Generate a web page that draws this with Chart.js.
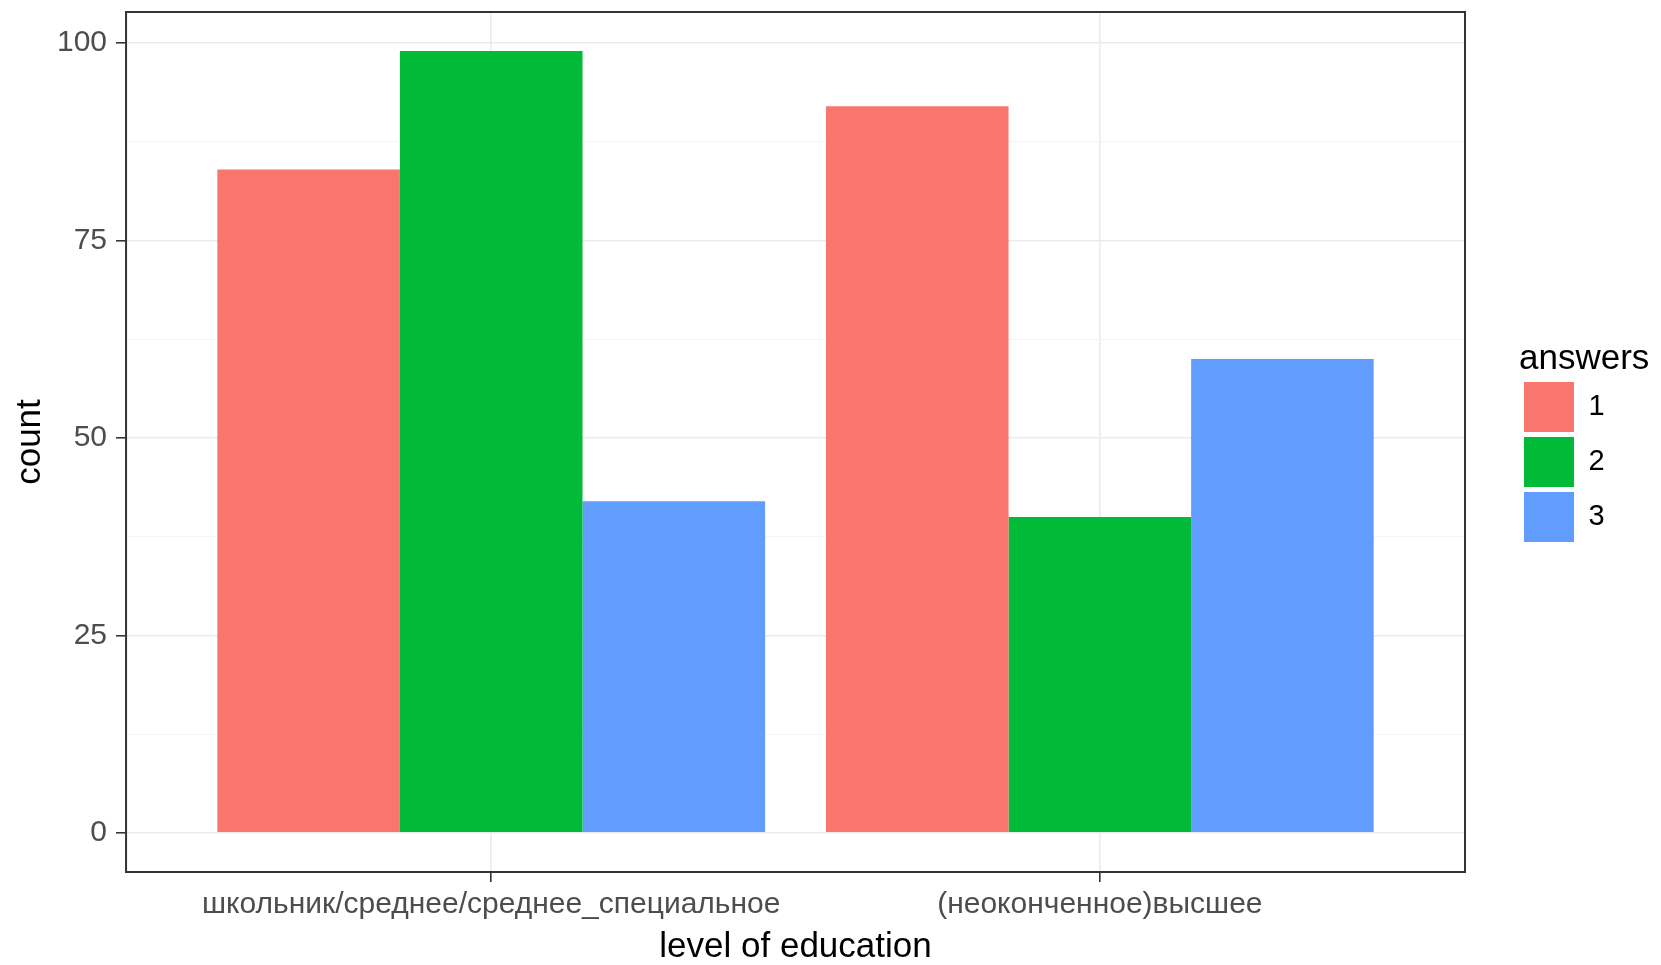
<!DOCTYPE html>
<html lang="ru">
<head>
    <meta charset="UTF-8">
    <title>level of education</title>
    <script src="https://cdn.jsdelivr.net/npm/chart.js@4.4.1/dist/chart.umd.min.js"></script>
    <style>
        body { margin: 0; background: #fff; }
        canvas { display: block; }
    </style>
</head>
<body>
<canvas id="myChart" width="1661" height="965"></canvas>

<script>
    const categories = ['школьник/среднее/среднее_специальное', '(неоконченное)высшее'];
    const answerLabels = ['1', '2', '3'];
    const answers1 = [84, 92];
    const answers2 = [99, 40];
    const answers3 = [42, 60];
    const yMajor = [0, 25, 50, 75, 100];
    const yMinor = [12.5, 37.5, 62.5, 87.5];

    const colors = ['#F8766D', '#00BA38', '#619CFF'];
    const series = [answers1, answers2, answers3];

    // ggplot style panel border round the plot area
    const panelBorder = {
        id: 'panelBorder',
        afterDatasetsDraw(chart) {
            const {ctx, chartArea: a} = chart;
            ctx.save();
            ctx.strokeStyle = '#333333';
            ctx.lineWidth = 2;
            ctx.strokeRect(a.left, a.top, a.right - a.left, a.bottom - a.top);
            ctx.restore();
        }
    };

    // move the legend away from the panel, like the ggplot guide
    // (legend clips to its own box, so stretch it to the canvas edge)
    const legendPlace = {
        id: 'legendPlace',
        afterLayout(chart) {
            const lg = chart.legend;
            lg.left = chart.chartArea.right + 54;
            lg.right = chart.width;
            lg.width = lg.right - lg.left;
            lg.top = 342;
            lg.bottom = chart.height;
            lg.height = lg.bottom - lg.top;
        }
    };

    const ctx = document.getElementById('myChart').getContext('2d');
    const myChart = new Chart(ctx, {
        type: 'bar',
        data: {
            datasets: series.map((vals, i) => ({
                label: answerLabels[i],
                data: vals.map((v, j) => ({x: j + 1, y: v})),
                backgroundColor: colors[i],
                borderWidth: 0
            }))
        },
        options: {
            responsive: false,
            animation: false,
            categoryPercentage: 0.9,
            barPercentage: 1.0,
            layout: { padding: { top: 12, right: 195, bottom: 0, left: 0 } },
            plugins: {
                tooltip: { enabled: false },
                legend: {
                    position: 'right',
                    align: 'start',
                    maxWidth: 1,
                    title: {
                        display: true,
                        text: 'answers',
                        position: 'start',
                        color: '#000000',
                        padding: 0,
                        font: { family: 'Liberation Sans', size: 35, lineHeight: 1 }
                    },
                    labels: {
                        boxWidth: 50,
                        boxHeight: 50,
                        padding: 5,
                        color: '#000000',
                        font: { family: 'Liberation Sans', size: 29 }
                    }
                }
            },
            scales: {
                x: {
                    type: 'linear',
                    min: 0.4,
                    max: 2.6,
                    offset: false,
                    afterBuildTicks: (scale) => {
                        scale.ticks = categories.map((c, i) => ({value: i + 1}));
                    },
                    border: { display: false },
                    grid: {
                        offset: false,
                        color: '#EBEBEB',
                        lineWidth: 1.6,
                        tickColor: '#333333',
                        tickWidth: 1.6,
                        tickLength: 10
                    },
                    ticks: {
                        padding: 5,
                        maxRotation: 0,
                        color: '#4D4D4D',
                        font: { family: 'Liberation Sans', size: 30 },
                        callback: (v) => categories[v - 1]
                    },
                    title: {
                        display: true,
                        text: 'level of education',
                        color: '#000000',
                        padding: { top: 2, bottom: 0 },
                        font: { family: 'Liberation Sans', size: 35, lineHeight: 1 }
                    }
                },
                y: {
                    min: -4.95,
                    max: 103.95,
                    afterBuildTicks: (scale) => {
                        scale.ticks = yMajor.concat(yMinor).sort((a, b) => a - b).map(v => ({value: v}));
                    },
                    border: { display: false },
                    grid: {
                        color: (c) => yMajor.includes(c.tick.value) ? '#EBEBEB' : '#F4F4F4',
                        lineWidth: (c) => yMajor.includes(c.tick.value) ? 1.6 : 0.9,
                        tickColor: (c) => yMajor.includes(c.tick.value) ? '#333333' : 'rgba(0,0,0,0)',
                        tickWidth: 1.6,
                        tickLength: 10
                    },
                    ticks: {
                        padding: 9,
                        color: '#4D4D4D',
                        font: { family: 'Liberation Sans', size: 30, lineHeight: 0.2 },
                        callback: (v) => yMajor.includes(v) ? String(v) : ''
                    },
                    title: {
                        display: true,
                        text: 'count',
                        color: '#000000',
                        padding: { top: 13, bottom: 0 },
                        font: { family: 'Liberation Sans', size: 35, lineHeight: 1 }
                    }
                }
            }
        },
        plugins: [panelBorder, legendPlace]
    });
</script>
</body>
</html>
